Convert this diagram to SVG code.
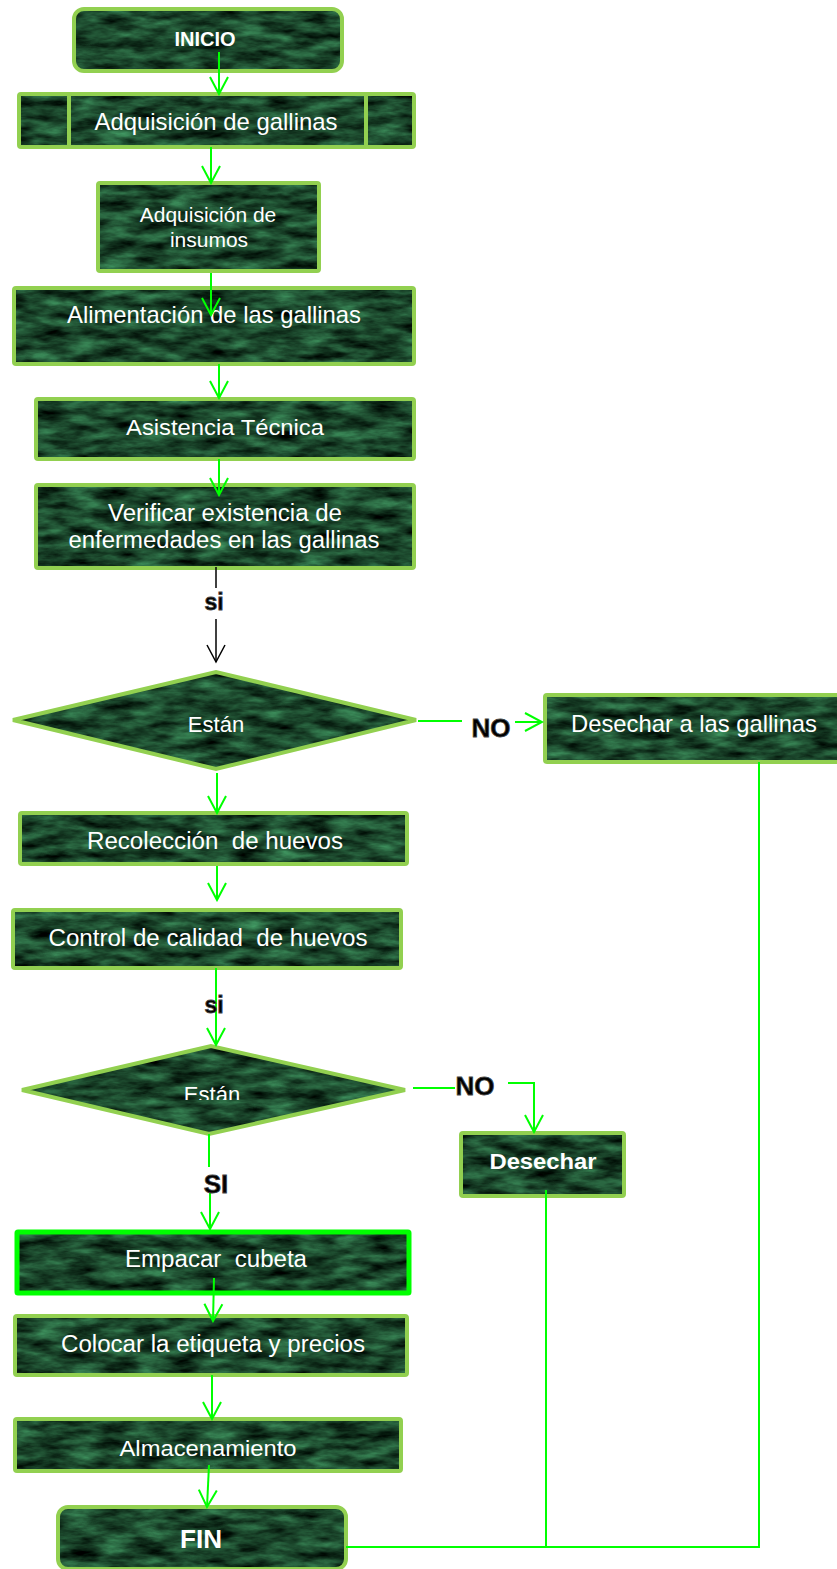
<svg xmlns="http://www.w3.org/2000/svg" width="837" height="1569" viewBox="0 0 837 1569">
<defs>
<style>
.bg{fill:#000;filter:url(#marble)}
.bd{fill:none;stroke:#92d050;stroke-width:4}
.bd2{fill:none;stroke:#00ff00;stroke-width:5}
.t{fill:#fff;font-family:"Liberation Sans",Arial,sans-serif;text-anchor:middle}
.tb{fill:#fff;font-family:"Liberation Sans",Arial,sans-serif;font-weight:bold;text-anchor:middle}
.lbl{fill:#000;stroke:#444;stroke-width:0.8;font-family:"Liberation Sans",Arial,sans-serif;font-weight:bold;text-anchor:middle}
.cg{fill:none;stroke:#00ff00;stroke-width:2}
.ck{fill:none;stroke:#000;stroke-width:1.5}
</style>
<filter id="marble" x="0" y="0" width="1" height="1" color-interpolation-filters="sRGB">
<feTurbulence type="fractalNoise" baseFrequency="0.03 0.1" numOctaves="4" seed="7" result="n"/>
<feColorMatrix in="n" type="matrix" values="0.35 0 0 0 -0.07  0.75 0 0 0 -0.1  0.5 0 0 0 -0.08  0 0 0 0 1" result="c"/>
<feComposite in="c" in2="SourceGraphic" operator="in"/>
</filter>
<marker id="ag" viewBox="-19 -11 21 22" refX="0" refY="0" markerWidth="21" markerHeight="22" markerUnits="userSpaceOnUse" orient="auto">
<path d="M-17,-9 L0,0 L-17,9" fill="none" stroke="#00ff00" stroke-width="2"/>
</marker>
<marker id="ak" viewBox="-19 -11 21 22" refX="0" refY="0" markerWidth="21" markerHeight="22" markerUnits="userSpaceOnUse" orient="auto">
<path d="M-17,-9 L0,0 L-17,9" fill="none" stroke="#000" stroke-width="1.5"/>
</marker>
<clipPath id="clipEstan2"><rect x="150" y="1070" width="130" height="30"/></clipPath>
</defs>
<rect width="837" height="1569" fill="#fff"/>

<g id="n_inicio">
<rect class="bg" x="74" y="9" width="268" height="62" rx="10"/>
<rect class="bd" x="74" y="9" width="268" height="62" rx="10"/>
<text class="tb" x="205" y="46" font-size="20">INICIO</text>
</g>

<g id="n_adquisicion_gallinas">
<rect class="bg" x="19" y="94" width="395" height="53" rx="2"/>
<rect class="bd" x="19" y="94" width="395" height="53" rx="2"/>
<path class="bd" d="M69,94 V147 M366,94 V147"/>
<text class="t" x="216" y="130" font-size="24" textLength="243" lengthAdjust="spacingAndGlyphs">Adquisición de gallinas</text>
</g>

<g id="n_insumos">
<rect class="bg" x="98" y="183" width="221" height="88" rx="2"/>
<rect class="bd" x="98" y="183" width="221" height="88" rx="2"/>
<text class="t" x="208" y="222" font-size="21">Adquisición de</text>
<text class="t" x="209" y="247" font-size="21">insumos</text>
</g>

<g id="n_alimentacion">
<rect class="bg" x="14" y="288" width="400" height="76" rx="2"/>
<rect class="bd" x="14" y="288" width="400" height="76" rx="2"/>
<text class="t" x="214" y="323" font-size="24" textLength="294" lengthAdjust="spacingAndGlyphs">Alimentación de las gallinas</text>
</g>

<g id="n_asistencia">
<rect class="bg" x="36" y="399" width="378" height="60" rx="2"/>
<rect class="bd" x="36" y="399" width="378" height="60" rx="2"/>
<text class="t" x="225" y="435" font-size="22" textLength="198" lengthAdjust="spacingAndGlyphs">Asistencia Técnica</text>
</g>

<g id="n_verificar">
<rect class="bg" x="36" y="485" width="378" height="83" rx="2"/>
<rect class="bd" x="36" y="485" width="378" height="83" rx="2"/>
<text class="t" x="225" y="521" font-size="23" textLength="234" lengthAdjust="spacingAndGlyphs">Verificar existencia de</text>
<text class="t" x="224" y="548" font-size="23" textLength="311" lengthAdjust="spacingAndGlyphs">enfermedades en las gallinas</text>
</g>

<g id="n_estan1">
<polygon class="bg" points="13,720 216,672 416,720 216,769"/>
<polygon class="bd" points="13,720 216,672 416,720 216,769"/>
<text class="t" x="216" y="732" font-size="22">Están</text>
</g>

<g id="n_desechar_gallinas">
<rect class="bg" x="545" y="695" width="296" height="67" rx="2"/>
<rect class="bd" x="545" y="695" width="296" height="67" rx="2"/>
<text class="t" x="694" y="732" font-size="24" textLength="246" lengthAdjust="spacingAndGlyphs">Desechar a las gallinas</text>
</g>

<g id="n_recoleccion">
<rect class="bg" x="20" y="813" width="387" height="51" rx="2"/>
<rect class="bd" x="20" y="813" width="387" height="51" rx="2"/>
<text class="t" x="215" y="849" font-size="23" textLength="256" lengthAdjust="spacingAndGlyphs" xml:space="preserve">Recolección  de huevos</text>
</g>

<g id="n_control">
<rect class="bg" x="13" y="910" width="388" height="58" rx="2"/>
<rect class="bd" x="13" y="910" width="388" height="58" rx="2"/>
<text class="t" x="208" y="946" font-size="23" textLength="319" lengthAdjust="spacingAndGlyphs" xml:space="preserve">Control de calidad  de huevos</text>
</g>

<g id="n_estan2">
<polygon class="bg" points="22,1090 211,1046 405,1090 209,1134"/>
<polygon class="bd" points="22,1090 211,1046 405,1090 209,1134"/>
<text class="t" x="212" y="1102" font-size="22" clip-path="url(#clipEstan2)">Están</text>
</g>

<g id="n_desechar">
<rect class="bg" x="461" y="1133" width="163" height="63" rx="2"/>
<rect class="bd" x="461" y="1133" width="163" height="63" rx="2"/>
<text class="tb" x="543" y="1169" font-size="22" textLength="107" lengthAdjust="spacingAndGlyphs">Desechar</text>
</g>

<g id="n_empacar">
<rect class="bg" x="17" y="1232" width="392" height="61" rx="1"/>
<rect class="bd2" x="17" y="1232" width="392" height="61" rx="1"/>
<text class="t" x="216" y="1267" font-size="23" textLength="182" lengthAdjust="spacingAndGlyphs" xml:space="preserve">Empacar  cubeta</text>
</g>

<g id="n_colocar">
<rect class="bg" x="15" y="1316" width="392" height="59" rx="2"/>
<rect class="bd" x="15" y="1316" width="392" height="59" rx="2"/>
<text class="t" x="213" y="1352" font-size="23" textLength="304" lengthAdjust="spacingAndGlyphs">Colocar la etiqueta y precios</text>
</g>

<g id="n_almacenamiento">
<rect class="bg" x="15" y="1419" width="386" height="52" rx="2"/>
<rect class="bd" x="15" y="1419" width="386" height="52" rx="2"/>
<text class="t" x="208" y="1456" font-size="22" textLength="177" lengthAdjust="spacingAndGlyphs">Almacenamiento</text>
</g>

<g id="n_fin">
<rect class="bg" x="58" y="1507" width="288" height="62" rx="10"/>
<rect class="bd" x="58" y="1507" width="288" height="62" rx="10"/>
<text class="tb" x="201" y="1548" font-size="25" textLength="42" lengthAdjust="spacingAndGlyphs">FIN</text>
</g>

<g id="connectors">
<path class="cg" d="M219,52 V94" marker-end="url(#ag)"/>
<path class="cg" d="M211,147 V183" marker-end="url(#ag)"/>
<path class="cg" d="M211,273 V315" marker-end="url(#ag)"/>
<path class="cg" d="M219,364 V398" marker-end="url(#ag)"/>
<path class="cg" d="M219,459 V495" marker-end="url(#ag)"/>
<path class="ck" d="M216,567 V588"/>
<path class="ck" d="M216,619 V662" marker-end="url(#ak)"/>
<path class="cg" d="M418,721 H462"/>
<path class="cg" d="M515,722 H542" marker-end="url(#ag)"/>
<path class="cg" d="M217,773 V813" marker-end="url(#ag)"/>
<path class="cg" d="M217,866 V900" marker-end="url(#ag)"/>
<path class="cg" d="M216,968 V1045" marker-end="url(#ag)"/>
<path class="cg" d="M413,1088 H455"/>
<path class="cg" d="M508,1083 H534 V1132" marker-end="url(#ag)"/>
<path class="cg" d="M209,1134 V1167"/>
<path class="cg" d="M210,1193 V1229" marker-end="url(#ag)"/>
<path class="cg" d="M214,1278 L213,1321" marker-end="url(#ag)"/>
<path class="cg" d="M212,1375 V1419" marker-end="url(#ag)"/>
<path class="cg" d="M209,1465 L207,1507" marker-end="url(#ag)"/>
<path class="cg" d="M759,762 V1547 H346"/>
<path class="cg" d="M546,1190 V1547"/>
</g>

<g id="labels">
<text class="lbl" x="214" y="610" font-size="23">si</text>
<text class="lbl" x="491" y="737" font-size="26">NO</text>
<text class="lbl" x="214" y="1013" font-size="23">si</text>
<text class="lbl" x="475" y="1095" font-size="26">NO</text>
<text class="lbl" x="216" y="1193" font-size="26">SI</text>
</g>
</svg>
